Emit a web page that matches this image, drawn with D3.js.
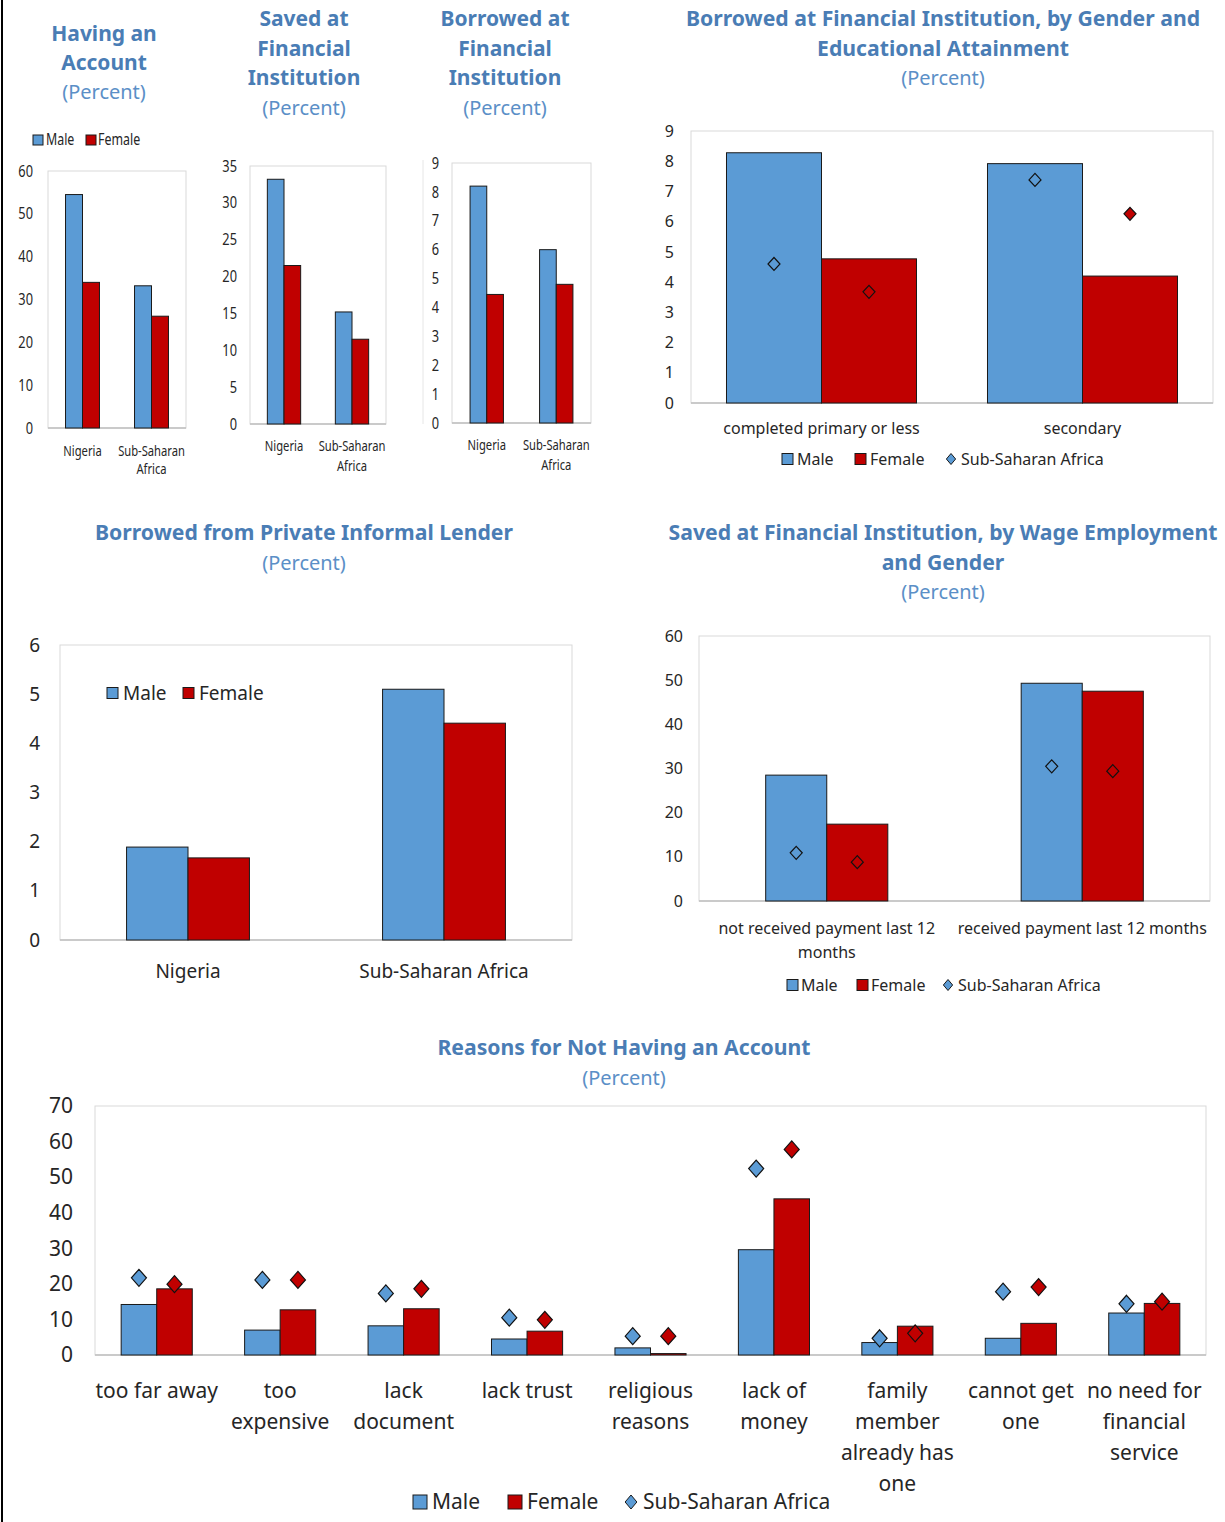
<!DOCTYPE html>
<html><head><meta charset="utf-8">
<script src="https://cdn.jsdelivr.net/npm/d3@7"></script>
<style>body{margin:0;background:#fff}svg{display:block}</style>
</head><body>
<svg id="c" width="1225" height="1522"></svg>
<script>
// ---------- DATA ----------
const countryCategories = ["Nigeria", "Sub-Saharan\nAfrica"];
const countryCategoriesWide = ["Nigeria", "Sub-Saharan Africa"];

const accountMale = [54.5, 33.2];
const accountFemale = [34.0, 26.1];
const accountTicks = [0, 10, 20, 30, 40, 50, 60];

const savedMale = [33.2, 15.2];
const savedFemale = [21.5, 11.5];
const savedTicks = [0, 5, 10, 15, 20, 25, 30, 35];

const borrowedMale = [8.2, 6.0];
const borrowedFemale = [4.45, 4.8];
const borrowedTicks = [0, 1, 2, 3, 4, 5, 6, 7, 8, 9];

const eduCategories = ["completed primary or less", "secondary"];
const eduMale = [8.28, 7.92];
const eduFemale = [4.77, 4.2];
const eduSSAMale = [4.6, 7.38];
const eduSSAFemale = [3.68, 6.26];
const eduTicks = [0, 1, 2, 3, 4, 5, 6, 7, 8, 9];

const informalMale = [1.89, 5.1];
const informalFemale = [1.67, 4.41];
const informalTicks = [0, 1, 2, 3, 4, 5, 6];

const wageCategories = ["not received payment last 12\nmonths", "received payment last 12 months"];
const wageMale = [28.5, 49.3];
const wageFemale = [17.4, 47.5];
const wageSSAMale = [10.9, 30.5];
const wageSSAFemale = [8.8, 29.4];
const wageTicks = [0, 10, 20, 30, 40, 50, 60];

const reasonCategories = ["too far away", "too\nexpensive", "lack\ndocument", "lack trust",
  "religious\nreasons", "lack of\nmoney", "family\nmember\nalready has\none", "cannot get\none",
  "no need for\nfinancial\nservice"];
const reasonMale = [14.2, 7.0, 8.2, 4.5, 2.0, 29.6, 3.5, 4.7, 11.8];
const reasonFemale = [18.6, 12.7, 13.0, 6.7, 0.4, 43.9, 8.1, 8.9, 14.5];
const reasonSSAMale = [21.7, 21.1, 17.3, 10.5, 5.3, 52.4, 4.7, 17.8, 14.4];
const reasonSSAFemale = [19.9, 21.1, 18.6, 9.9, 5.3, 57.8, 6.1, 19.1, 15.0];
const reasonTicks = [0, 10, 20, 30, 40, 50, 60, 70];

// ---------- DRAWING ----------
const svg = d3.select("#c");
const FONT = "'Noto Sans','Open Sans',sans-serif";
const BLUE = "#5B9BD5", RED = "#C00000", TITLE = "#4a7db5", SUB = "#5b8fc7", TXT = "#262626";
const COND = 0.8;

svg.append("rect").attr("x", 1).attr("y", 0).attr("width", 2).attr("height", 1522).attr("fill", "#000");

function diamondPath(w, h) { return `M0,${-h}L${w},0L0,${h}L${-w},0Z`; }

function drawChart(o) {
  const g = svg.append("g");
  const x = d3.scaleBand().domain(o.categories).range([o.left, o.right]);
  const y = d3.scaleLinear().domain([0, o.yMax]).range([o.bottom, o.top]);
  g.append("rect").attr("x", o.left).attr("y", o.top)
    .attr("width", o.right - o.left).attr("height", o.bottom - o.top)
    .attr("fill", "none").attr("stroke", "#d9d9d9").attr("stroke-width", 1);
  g.append("line").attr("x1", o.left).attr("x2", o.right).attr("y1", y(0)).attr("y2", y(0))
    .attr("stroke", "#bfbfbf").attr("stroke-width", 1.5);
  const bw = x.bandwidth() * o.barFrac;
  const series = [{ vals: o.male, color: BLUE, off: -1, ssa: o.ssaMale },
                  { vals: o.female, color: RED, off: 0, ssa: o.ssaFemale }];
  series.forEach(s => {
    g.selectAll(null).data(o.categories).enter().append("rect")
      .attr("x", c => x(c) + x.bandwidth() / 2 + s.off * bw)
      .attr("y", (c, i) => y(s.vals[i]))
      .attr("width", bw)
      .attr("height", (c, i) => y(0) - y(s.vals[i]))
      .attr("fill", s.color).attr("stroke", "#1a1a1a").attr("stroke-width", 1);
  });
  series.forEach(s => {
    if (!s.ssa) return;
    g.selectAll(null).data(o.categories).enter().append("path")
      .attr("d", diamondPath(o.dw, o.dh))
      .attr("transform", (c, i) => `translate(${x(c) + x.bandwidth() / 2 + s.off * bw + bw / 2},${y(s.ssa[i])})`)
      .attr("fill", s.color).attr("stroke", "#111").attr("stroke-width", 1.2);
  });
  const ya = d3.axisLeft(y).tickValues(o.ticks).tickSize(0).tickPadding(0).tickFormat(d3.format("d"));
  const yg = g.append("g").attr("transform", `translate(${o.tickX},0)`).call(ya);
  yg.select(".domain").remove();
  yg.selectAll("text").attr("font-family", FONT).attr("font-size", o.fs).attr("fill", TXT);
  if (o.cond) yg.selectAll("text").attr("transform", `scale(${COND},1)`);
  const xa = d3.axisBottom(x).tickSize(0).tickPadding(0);
  const xg = g.append("g").attr("transform", `translate(0,${o.xLabelY})`).call(xa);
  xg.select(".domain").remove();
  xg.selectAll("text").each(function (d) {
    const t = d3.select(this);
    t.text(null).attr("y", 0).attr("dy", null)
      .attr("font-family", FONT).attr("font-size", o.xfs || o.fs).attr("fill", TXT);
    d.split("\n").forEach((l, i) => t.append("tspan").attr("x", 0).attr("y", i * o.lh).attr("dy", "0.35em").text(l));
    if (o.cond) t.attr("transform", `scale(${COND},1)`);
  });
  return g;
}

function legend(items, y, fs, cond, sq) {
  const g = svg.append("g");
  items.forEach(it => {
    if (it.kind === "square") {
      g.append("rect").attr("x", it.x).attr("y", y - sq / 2).attr("width", sq).attr("height", sq)
        .attr("fill", it.color).attr("stroke", "#1a1a1a").attr("stroke-width", 1);
    } else {
      g.append("path").attr("d", diamondPath(sq * 0.42, sq * 0.5))
        .attr("transform", `translate(${it.x},${y})`)
        .attr("fill", it.color).attr("stroke", "#1a1a1a").attr("stroke-width", 1);
    }
    g.append("text").attr("transform", `translate(${it.tx},${y})` + (cond ? ` scale(${COND},1)` : ""))
      .attr("dy", "0.35em").attr("font-family", FONT).attr("font-size", fs).attr("fill", TXT)
      .text(it.label);
  });
}

function title(cx, y0, lh, boldLines, fsB, fsS) {
  const g = svg.append("g").attr("font-family", FONT).attr("text-anchor", "middle");
  boldLines.forEach((l, i) => g.append("text").attr("x", cx).attr("y", y0 + i * lh).attr("dy", "0.35em")
    .attr("font-weight", "bold").attr("font-size", fsB).attr("fill", TITLE).text(l));
  g.append("text").attr("x", cx).attr("y", y0 + boldLines.length * lh).attr("dy", "0.35em")
    .attr("font-size", fsS).attr("fill", SUB).text("(Percent)");
}

// Titles
title(104, 34, 29, ["Having an", "Account"], 21, 20);
title(304, 19, 29.5, ["Saved at", "Financial", "Institution"], 21, 20);
title(505, 19, 29.5, ["Borrowed at", "Financial", "Institution"], 21, 20);
title(943, 19, 29.5, ["Borrowed at Financial Institution, by Gender and", "Educational Attainment"], 21.2, 20);
title(304, 533, 30, ["Borrowed from Private Informal Lender"], 21.2, 20);
title(943, 533, 29.5, ["Saved at Financial Institution, by Wage Employment", "and Gender"], 21.2, 20);
title(624, 1048, 30, ["Reasons for Not Having an Account"], 21.2, 20);

// Chart 1
drawChart({ categories: countryCategories, male: accountMale, female: accountFemale, ticks: accountTicks,
  left: 48, right: 186, top: 171, bottom: 428, yMax: 60, barFrac: 0.246, tickX: 33, fs: 16, xfs: 14, cond: true,
  xLabelY: 451, lh: 18 });
legend([{ kind: "square", color: BLUE, x: 33, tx: 46, label: "Male" },
        { kind: "square", color: RED, x: 86, tx: 98, label: "Female" }], 140, 15.5, true, 10);

// Chart 2
drawChart({ categories: countryCategories, male: savedMale, female: savedFemale, ticks: savedTicks,
  left: 250, right: 386, top: 166, bottom: 424, yMax: 35, barFrac: 0.245, tickX: 237, fs: 16, xfs: 14, cond: true,
  xLabelY: 446, lh: 20 });

// Chart 3
svg.append("line").attr("x1", 423).attr("x2", 423).attr("y1", 160).attr("y2", 424).attr("stroke", "#e6e6e6");
drawChart({ categories: countryCategories, male: borrowedMale, female: borrowedFemale, ticks: borrowedTicks,
  left: 452, right: 591, top: 163, bottom: 423, yMax: 9, barFrac: 0.24, tickX: 439, fs: 16, xfs: 14, cond: true,
  xLabelY: 445, lh: 20 });

// Chart 4
drawChart({ categories: eduCategories, male: eduMale, female: eduFemale, ssaMale: eduSSAMale, ssaFemale: eduSSAFemale,
  ticks: eduTicks, left: 691, right: 1213, top: 131, bottom: 403, yMax: 9, barFrac: 0.364, tickX: 674, fs: 16,
  xLabelY: 428, lh: 22, dw: 6, dh: 6.5 });
legend([{ kind: "square", color: BLUE, x: 782, tx: 797, label: "Male" },
        { kind: "square", color: RED, x: 855, tx: 870, label: "Female" },
        { kind: "diamond", color: BLUE, x: 951, tx: 961, label: "Sub-Saharan Africa" }], 459, 16, false, 11);

// Chart 5
drawChart({ categories: countryCategoriesWide, male: informalMale, female: informalFemale, ticks: informalTicks,
  left: 60, right: 572, top: 645, bottom: 940, yMax: 6, barFrac: 0.24, tickX: 40, fs: 19,
  xLabelY: 971, lh: 24 });
legend([{ kind: "square", color: BLUE, x: 107, tx: 123, label: "Male" },
        { kind: "square", color: RED, x: 183, tx: 199, label: "Female" }], 693, 19, false, 11);

// Chart 6
drawChart({ categories: wageCategories, male: wageMale, female: wageFemale, ssaMale: wageSSAMale, ssaFemale: wageSSAFemale,
  ticks: wageTicks, left: 699, right: 1210, top: 636, bottom: 901, yMax: 60, barFrac: 0.239, tickX: 683, fs: 16,
  xLabelY: 928, lh: 24, dw: 6, dh: 6.5 });
legend([{ kind: "square", color: BLUE, x: 787, tx: 801, label: "Male" },
        { kind: "square", color: RED, x: 857, tx: 871, label: "Female" },
        { kind: "diamond", color: BLUE, x: 948, tx: 958, label: "Sub-Saharan Africa" }], 985, 16, false, 11);

// Chart 7
drawChart({ categories: reasonCategories, male: reasonMale, female: reasonFemale, ssaMale: reasonSSAMale, ssaFemale: reasonSSAFemale,
  ticks: reasonTicks, left: 95, right: 1206, top: 1106, bottom: 1355, yMax: 70, barFrac: 0.288, tickX: 73, fs: 21,
  xLabelY: 1391, lh: 31, dw: 7.5, dh: 8.5 });
legend([{ kind: "square", color: BLUE, x: 413, tx: 432, label: "Male" },
        { kind: "square", color: RED, x: 508, tx: 527, label: "Female" },
        { kind: "diamond", color: BLUE, x: 631, tx: 643, label: "Sub-Saharan Africa" }], 1502, 21, false, 14);
</script>
</body></html>
